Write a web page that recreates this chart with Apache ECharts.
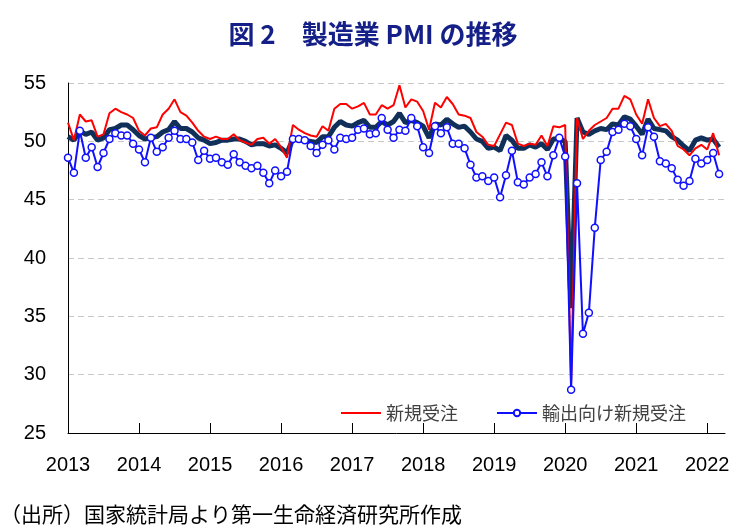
<!DOCTYPE html>
<html>
<head>
<meta charset="utf-8">
<script src="https://cdn.jsdelivr.net/npm/echarts@6/dist/echarts.min.js"></script>
<style>
  html, body { margin: 0; padding: 0; background: #fff; }
  #chartDiv { width: 746px; height: 530px; }
</style>
</head>
<body>
<div id="chartDiv"></div>
<script>
// 製造業PMI（月次、2013年1月～2022年3月）
var startYear = 2013;
var monthCount = 112; // 軸は2022年4月の位置まで伸ばす

// 製造業PMI（太線）
var pmi = [
  50.4, 50.1, 50.9, 50.6, 50.8, 50.1, 50.3, 51.0, 51.1, 51.4, 51.4, 51.0,
  50.5, 50.2, 50.3, 50.4, 50.8, 51.0, 51.7, 51.1, 51.1, 50.8, 50.3, 50.1,
  49.8, 49.9, 50.1, 50.1, 50.2, 50.2, 50.0, 49.7, 49.8, 49.8, 49.6, 49.7,
  49.4, 49.0, 50.2, 50.1, 50.1, 50.0, 49.9, 50.4, 50.4, 51.2, 51.7, 51.4,
  51.3, 51.6, 51.8, 51.2, 51.2, 51.7, 51.4, 51.7, 52.4, 51.6, 51.8, 51.6,
  51.3, 50.3, 51.5, 51.4, 51.9, 51.5, 51.2, 51.3, 50.8, 50.2, 50.0, 49.4,
  49.5, 49.2, 50.5, 50.1, 49.4, 49.4, 49.7, 49.5, 49.8, 49.3, 50.2, 50.2,
  50.0, 35.7, 52.0, 50.8, 50.6, 50.9, 51.1, 51.0, 51.5, 51.4, 52.1, 51.9,
  51.3, 50.6, 51.9, 51.1, 51.0, 50.9, 50.4, 50.1, 49.6, 49.2, 50.1, 50.3,
  50.1, 50.2, 49.5
];

// 新規受注
var newOrders = [
  51.6, 50.1, 52.3, 51.7, 51.8, 50.4, 50.6, 52.4, 52.8, 52.5, 52.3, 52.0,
  50.9, 50.5, 51.1, 51.2, 52.3, 52.8, 53.6, 52.5, 52.2, 51.6, 50.9, 50.4,
  50.2, 50.4, 50.2, 50.2, 50.6, 50.1, 49.9, 49.7, 50.2, 50.3, 49.8, 50.2,
  49.5, 48.6, 51.4, 51.0, 50.7, 50.5, 50.4, 51.3, 50.9, 52.8, 53.2, 53.2,
  52.8, 53.0, 53.3, 52.3, 52.3, 53.1, 52.8, 53.1, 54.8, 52.9, 53.6, 53.4,
  52.6, 51.0, 53.3, 52.9, 53.8, 53.2, 52.3, 52.2, 52.0, 50.8, 50.4, 49.7,
  49.6, 50.6, 51.6, 51.4, 49.8, 49.6, 49.8, 49.7, 50.5, 49.6, 51.3, 51.2,
  51.4, 29.3, 52.0, 50.2, 50.9, 51.4, 51.7, 52.0, 52.8, 52.8, 53.9, 53.6,
  52.3, 51.5, 53.6, 52.0, 51.3, 51.5, 50.9, 49.6, 49.3, 48.8, 49.4, 49.7,
  49.3, 50.7, 48.8
];

// 輸出向け新規受注
var exportOrders = [
  48.6, 47.3, 50.9, 48.6, 49.5, 47.8, 49.0, 50.2, 50.7, 50.5, 50.5, 49.8,
  49.3, 48.2, 50.3, 49.1, 49.5, 50.3, 50.9, 50.2, 50.2, 49.9, 48.4, 49.2,
  48.5, 48.6, 48.2, 48.0, 48.9, 48.2, 47.9, 47.7, 47.9, 47.3, 46.4, 47.5,
  47.0, 47.4, 50.2, 50.2, 50.1, 49.6, 49.0, 49.7, 50.1, 49.3, 50.3, 50.2,
  50.3, 51.0, 51.1, 50.6, 50.7, 52.0, 51.0, 50.3, 51.0, 50.9, 52.0, 51.3,
  49.5, 49.0, 51.3, 50.7, 51.2, 49.8, 49.8, 49.4, 48.0, 46.9, 47.0, 46.6,
  46.9, 45.2, 47.1, 49.2, 46.5, 46.3, 46.9, 47.2, 48.2, 47.0, 48.8, 50.3,
  48.7, 28.7, 46.4, 33.5, 35.3, 42.6, 48.4, 49.1, 50.8, 51.0, 51.5, 51.3,
  50.2, 48.8, 51.2, 50.4, 48.3, 48.1, 47.7, 46.7, 46.2, 46.6, 48.5, 48.1,
  48.4, 49.0, 47.2
];

var yTicks = [25, 30, 35, 40, 45, 50, 55];

var months = [];
for (var i = 0; i < monthCount; i++) {
  var y = startYear + Math.floor(i / 12);
  var m = i % 12 + 1;
  months.push(y + '-' + (m < 10 ? '0' + m : m));
}

function isJan(index) { return index % 12 === 0; }

var numFont = '"Liberation Sans", Arial, sans-serif';
var jpFont = '"Noto Sans CJK JP", sans-serif';

var myChart = echarts.init(document.getElementById('chartDiv'));
var option = {
  backgroundColor: '#fff',
  animation: false,
  title: {
    text: '図 2　製造業 PMI の推移',
    left: 'center',
    top: 16,
    textStyle: {
      fontFamily: jpFont,
      fontSize: 26,
      fontWeight: 'bold',
      color: '#142087'
    }
  },
  legend: {
    data: [
      { name: '新規受注', itemStyle: { opacity: 0 } },
      { name: '輸出向け新規受注' }
    ],
    left: 335,
    top: 399,
    itemWidth: 40,
    itemHeight: 8,
    itemGap: 38,
    textStyle: {
      fontFamily: jpFont,
      fontSize: 18,
      color: '#404040'
    }
  },
  grid: {
    left: 68,
    right: 21,
    top: 83,
    bottom: 97,
    containLabel: false
  },
  xAxis: {
    type: 'category',
    data: months,
    boundaryGap: false,
    axisLine: { lineStyle: { color: '#000', width: 1 } },
    axisTick: {
      inside: true,
      length: 10,
      interval: function (index) { return isJan(index); },
      lineStyle: { color: '#000' }
    },
    axisLabel: {
      interval: function (index) { return isJan(index); },
      formatter: function (v) { return v.slice(0, 4); },
      margin: 22,
      fontFamily: numFont,
      fontSize: 20,
      color: '#000'
    },
    splitLine: { show: false }
  },
  yAxis: {
    type: 'value',
    min: yTicks[0],
    max: yTicks[yTicks.length - 1],
    interval: 5,
    axisLine: { show: true, lineStyle: { color: '#000', width: 1 } },
    axisTick: { show: false },
    axisLabel: {
      margin: 22,
      fontFamily: numFont,
      fontSize: 20,
      color: '#000'
    },
    splitLine: {
      show: true,
      lineStyle: { color: '#c8c8c8', type: [6, 4], width: 1 }
    }
  },
  series: [
    {
      name: '製造業PMI',
      type: 'line',
      data: pmi,
      symbol: 'none',
      z: 1,
      lineStyle: { color: '#10305a', width: 5 },
      itemStyle: { color: '#10305a' }
    },
    {
      name: '新規受注',
      type: 'line',
      data: newOrders,
      symbol: 'none',
      z: 2,
      lineStyle: { color: '#ff0000', width: 2 },
      itemStyle: { color: '#ff0000' }
    },
    {
      name: '輸出向け新規受注',
      type: 'line',
      data: exportOrders,
      symbol: 'circle',
      symbolSize: 7,
      showAllSymbol: true,
      z: 3,
      lineStyle: { color: '#1010ff', width: 2 },
      itemStyle: { color: '#fff', borderColor: '#1010ff', borderWidth: 1.5 }
    }
  ],
  graphic: [
    {
      type: 'text',
      left: 0,
      top: 504,
      style: {
        text: '（出所）国家統計局より第一生命経済研究所作成',
        fontFamily: jpFont,
        fontSize: 21,
        fill: '#000'
      }
    }
  ]
};
myChart.setOption(option);
</script>
</body>
</html>
